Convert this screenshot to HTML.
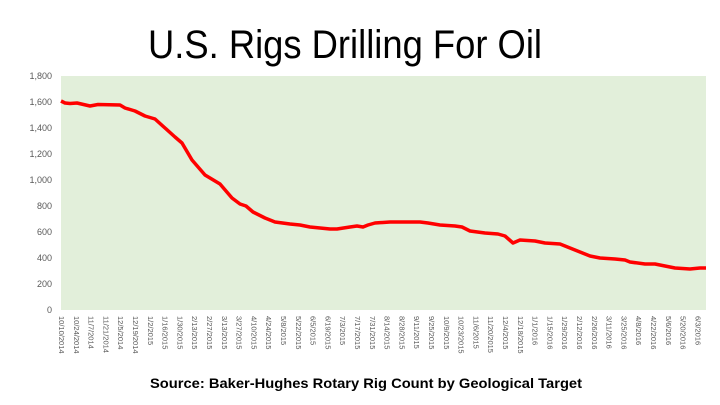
<!DOCTYPE html>
<html><head><style>
body{margin:0;background:#fff;}
svg{display:block;font-family:"Liberation Sans",sans-serif;}
</style></head><body>
<svg width="720" height="405" viewBox="0 0 720 405">
<rect width="720" height="405" fill="#fff"/>
<text x="148" y="58" textLength="394" lengthAdjust="spacingAndGlyphs" font-size="40" fill="#000">U.S. Rigs Drilling For Oil</text>
<rect x="61" y="76" width="645" height="234" fill="#e2efda"/>
<g font-size="9" fill="#595959" text-anchor="end">
<text x="52" y="79">1,800</text><text x="52" y="105">1,600</text><text x="52" y="131">1,400</text>
<text x="52" y="157">1,200</text><text x="52" y="183">1,000</text><text x="52" y="209">800</text>
<text x="52" y="235">600</text><text x="52" y="261">400</text><text x="52" y="287">200</text><text x="52" y="313">0</text>
</g>
<polyline fill="none" stroke="#ff0000" stroke-width="3.5" stroke-linejoin="round" points="61,101 65,103 70,103.5 77,103 90,106 98,104.5 120,105 125,108 135,111 145,116 155,119 165,128 175,137 182,143 192,160 205,175 220,184 232,198 240,204 246,206 253,212 265,218 275,222 290,224 300,225 310,227 330,229 337,229 350,227 357,226 363,227 368,225 375,223 390,222 405,222 420,222 428,223 440,225 455,226 462,227 470,231 485,233 498,234 505,236 513,243 520,240 535,241 545,243 560,244 565,246 575,250 590,256 600,258 615,259 625,260 630,262 645,264 655,264 665,266 675,268 690,269 700,268 706,268"/>
<g font-size="7.5" fill="#595959" id="xl"></g>
<text x="150" y="388" textLength="432" lengthAdjust="spacingAndGlyphs" font-size="14" font-weight="bold" fill="#000">Source: Baker-Hughes Rotary Rig Count by Geological Target</text>
</svg>
<script>
var labels=["10/10/2014","10/24/2014","11/7/2014","11/21/2014","12/5/2014","12/19/2014","1/2/2015","1/16/2015","1/30/2015","2/13/2015","2/27/2015","3/13/2015","3/27/2015","4/10/2015","4/24/2015","5/8/2015","5/22/2015","6/5/2015","6/19/2015","7/3/2015","7/17/2015","7/31/2015","8/14/2015","8/28/2015","9/11/2015","9/25/2015","10/9/2015","10/23/2015","11/6/2015","11/20/2015","12/4/2015","12/18/2015","1/1/2016","1/15/2016","1/29/2016","2/12/2016","2/26/2016","3/11/2016","3/25/2016","4/8/2016","4/22/2016","5/6/2016","5/20/2016","6/3/2016"];
var g=document.getElementById('xl');
labels.forEach(function(l,i){var x=62+i*14.8;var t=document.createElementNS('http://www.w3.org/2000/svg','text');
t.setAttribute('transform','translate('+(x-3)+',316) rotate(90)');t.textContent=l;g.appendChild(t);});
</script>
</body></html>
